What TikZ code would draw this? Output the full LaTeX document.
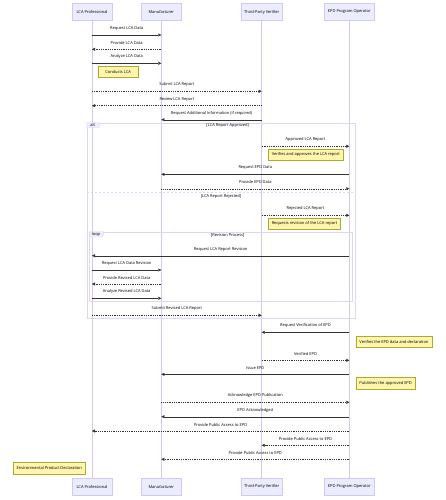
\documentclass[tikz,border=0pt]{standalone}
\usepackage{fontspec}
\setmainfont{Open Sans}
\usetikzlibrary{arrows.meta}
\definecolor{actorbg}{HTML}{ECECFF}
\definecolor{actorline}{HTML}{D2C8F2}
\definecolor{notebg}{HTML}{FFF5AD}
\definecolor{noteline}{HTML}{AAAA33}
\definecolor{signal}{HTML}{333333}
\begin{document}
\begin{tikzpicture}[x=1pt, y=-1pt, >={Triangle[length=3pt, width=3pt]},
    every node/.style={font=\fontsize{4}{5}\selectfont, text=black},
    actor/.style={draw=actorline, fill=actorbg, line width=0.5pt, minimum width=40pt, minimum height=17.4pt, inner xsep=3.3pt},
    lifeline/.style={actorline, line width=0.6pt},
    msg/.style={->, signal, line width=0.4pt},
    reply/.style={msg, dash pattern=on 0.9pt off 0.9pt},
    lbl/.style={midway, yshift=6.4pt},
    note/.style={draw=noteline, fill=notebg, line width=0.3pt, minimum width=40pt, minimum height=11.3pt, inner xsep=3.3pt},
    frame/.style={draw=actorline!75!white, line width=0.4pt}]

    \useasboundingbox (0,0) rectangle (446,500);

    % participants
    \node[actor] (lca) at (92,12) {LCA Professional};
    \node[actor] (manu) at (161.3,12) {Manufacturer};
    \node[actor] (tpv) at (261.7,12) {Third-Party Verifier};
    \node[actor] (epd) at (349.3,12) {EPD Program Operator};

    \node[actor] (lcab) at (92,486.9) {LCA Professional};
    \node[actor] (manub) at (161.3,486.9) {Manufacturer};
    \node[actor] (tpvb) at (261.7,486.9) {Third-Party Verifier};
    \node[actor] (epdb) at (349.3,486.9) {EPD Program Operator};

    \draw[lifeline] (lca) -- (lcab);
    \draw[lifeline] (manu) -- (manub);
    \draw[lifeline] (tpv) -- (tpvb);
    \draw[lifeline] (epd) -- (epdb);

    % alt / loop frames
    \draw[frame] (86.7,122.7) rectangle (355.3,318.3);
    \draw[frame, fill=actorbg] (86.7,122.7) -- (100,122.7) -- (100,126) -- (98.7,127.7) -- (86.7,127.7) -- cycle;
    \node (alttag) at (92.8,125.2) {alt};
    \node (altcond) at (227.7,125.7) {[LCA Report Approved]};
    \draw[frame, dash pattern=on 2pt off 2pt] (86.7,192.3) -- (355.3,192.3);
    \node (elsecond) at (221,196) {[LCA Report Rejected]};

    \draw[frame] (89.3,231.7) rectangle (352.3,301);
    \draw[frame, fill=actorbg] (89.3,231.7) -- (103.3,231.7) -- (103.3,235.3) -- (101.7,237) -- (89.3,237) -- cycle;
    \node (looptag) at (96,234.3) {loop};
    \node (loopcond) at (227.7,235) {[Revision Process]};

    % messages
    \draw[msg] (lca |- 0,35) -- (manu |- 0,35) node[lbl] {Request LCA Data};
    \draw[reply] (manu |- 0,49.3) -- (lca |- 0,49.3) node[lbl] {Provide LCA Data};
    \draw[msg] (lca |- 0,63.3) -- (manu |- 0,63.3) node[lbl] {Analyze LCA Data};
    \node[note, anchor=north west] (conducts) at (98,66) {Conducts LCA};
    \draw[reply] (lca |- 0,91.3) -- (tpv |- 0,91.3) node[lbl] {Submit LCA Report};
    \draw[reply] (tpv |- 0,105.7) -- (lca |- 0,105.7) node[lbl] {Review LCA Report};
    \draw[msg] (tpv |- 0,119.7) -- (manu |- 0,119.7) node[lbl] {Request Additional Information (if required)};

    \draw[reply] (tpv |- 0,146.3) -- (epd |- 0,146.3) node[lbl] {Approved LCA Report};
    \node[note, anchor=north west] (approves) at (268.3,149) {Verifies and approves the LCA report};
    \draw[msg] (epd |- 0,174.3) -- (manu |- 0,174.3) node[lbl] {Request EPD Data};
    \draw[reply] (manu |- 0,188.7) -- (epd |- 0,188.7) node[lbl] {Provide EPD Data};

    \draw[reply] (tpv |- 0,215.3) -- (epd |- 0,215.3) node[lbl] {Rejected LCA Report};
    \node[note, anchor=north west] (revision) at (268.3,217.7) {Requests revision of the LCA report};
    \draw[msg] (epd |- 0,255.7) -- (lca |- 0,255.7) node[lbl] {Request LCA Report Revision};
    \draw[msg] (lca |- 0,270) -- (manu |- 0,270) node[lbl] {Request LCA Data Revision};
    \draw[reply] (manu |- 0,284) -- (lca |- 0,284) node[lbl] {Provide Revised LCA Data};
    \draw[msg] (lca |- 0,298.3) -- (manu |- 0,298.3) node[lbl] {Analyze Revised LCA Data};
    \draw[reply] (lca |- 0,315.3) -- (tpv |- 0,315.3) node[lbl] {Submit Revised LCA Report};

    \draw[msg] (epd |- 0,332.3) -- (tpv |- 0,332.3) node[lbl] {Request Verification of EPD};
    \node[note, anchor=north west] (verifies) at (356,336) {Verifies the EPD data and declaration};
    \draw[reply] (tpv |- 0,360.3) -- (epd |- 0,360.3) node[lbl] {Verified EPD};
    \draw[msg] (epd |- 0,374.3) -- (manu |- 0,374.3) node[lbl] {Issue EPD};
    \node[note, anchor=north west] (publishes) at (356,377.3) {Publishes the approved EPD};
    \draw[reply] (manu |- 0,402.3) -- (epd |- 0,402.3) node[lbl] {Acknowledge EPD Publication};
    \draw[msg] (epd |- 0,416.7) -- (manu |- 0,416.7) node[lbl] {EPD Acknowledged};
    \draw[reply] (epd |- 0,431) -- (lca |- 0,431) node[lbl] {Provide Public Access to EPD};
    \draw[reply] (epd |- 0,445.3) -- (tpv |- 0,445.3) node[lbl] {Provide Public Access to EPD};
    \draw[reply] (epd |- 0,459.3) -- (manu |- 0,459.3) node[lbl] {Provide Public Access to EPD};
    \node[note, anchor=north east] (declaration) at (85.3,462.3) {Environmental Product Declaration};
\end{tikzpicture}
\end{document}
